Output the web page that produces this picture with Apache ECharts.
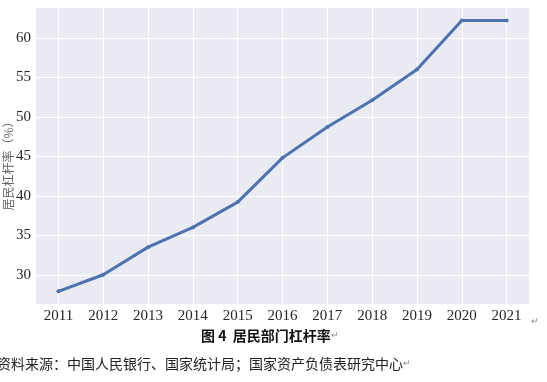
<!DOCTYPE html>
<html>
<head>
<meta charset="utf-8">
<script src="https://cdn.jsdelivr.net/npm/echarts@6/dist/echarts.min.js"></script>
<style>html,body{margin:0;padding:0;background:#fff;}#c{width:547px;height:382px;}</style>
</head>
<body>
<div id="c"></div>
<script>
const years = ['2011','2012','2013','2014','2015','2016','2017','2018','2019','2020','2021'];
const leverage = [27.9, 30.0, 33.5, 36.0, 39.2, 44.8, 48.7, 52.1, 56.0, 62.2, 62.2];
const yAxisName = '居民杠杆率（%）';
const captionTitle = '图 4  居民部门杠杆率';
const sourceNote = '资料来源：中国人民银行、国家统计局；国家资产负债表研究中心';

const chart = echarts.init(document.getElementById('c'));
const serif = '"Liberation Serif", "DejaVu Serif", serif';
const cjk = '"Noto Sans CJK SC", sans-serif';
chart.setOption({
  animation: false,
  backgroundColor: '#ffffff',
  grid: { left: 36, right: 18, top: 7, bottom: 78, show: true, backgroundColor: '#eaeaf2', borderWidth: 0, containLabel: false, outerBoundsMode: 'none' },
  xAxis: {
    type: 'category', data: years, boundaryGap: true,
    axisLine: { show: false }, axisTick: { show: false },
    axisLabel: { color: '#262626', fontFamily: serif, fontSize: 15, margin: 5 },
    splitLine: { show: true, alignWithLabel: true, lineStyle: { color: '#ffffff', width: 1 } }
  },
  yAxis: {
    type: 'value', min: 26.3, max: 63.9, splitNumber: 8,
    axisLine: { show: false }, axisTick: { show: false },
    axisLabel: { color: '#262626', fontFamily: serif, fontSize: 15, margin: 5, showMinLabel: false, showMaxLabel: false },
    splitLine: { show: true, lineStyle: { color: '#ffffff', width: 1 } }
  },
  series: [{
    type: 'line', data: leverage,
    lineStyle: { color: '#4c72b0', width: 3 },
    itemStyle: { color: '#4c72b0' },
    symbol: 'circle', symbolSize: 4, showSymbol: true
  }],
  graphic: [
    { type: 'text', x: 8, y: 163, rotation: Math.PI / 2, style: {
      text: yAxisName, align: 'center', verticalAlign: 'middle',
      fontFamily: cjk, fontSize: 12, fill: '#666' } },
    { type: 'text', left: 201, top: 329, style: {
      text: '{b|' + captionTitle + '}{r|↵}',
      rich: { b: { fontFamily: cjk, fontWeight: 'bold', fontSize: 14, fill: '#111' }, r: { fontSize: 9, fill: '#888' } } } },
    { type: 'text', left: -3, top: 357, style: {
      text: '{t|' + sourceNote + '}{r|↵}',
      rich: { t: { fontFamily: cjk, fontSize: 14, fill: '#222' }, r: { fontSize: 9, fill: '#888' } } } },
    { type: 'text', left: 531, top: 317, style: { text: '↵', fontSize: 9, fill: '#888' } }
  ]
});
</script>
</body>
</html>
